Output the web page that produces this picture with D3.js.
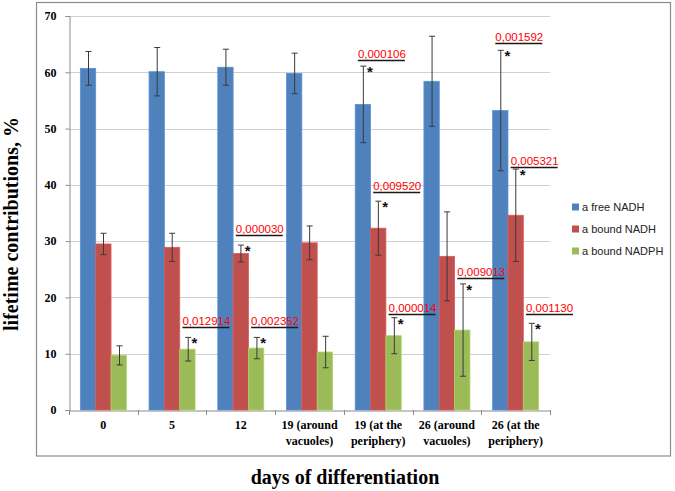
<!DOCTYPE html>
<html>
<head>
<meta charset="utf-8">
<script src="https://cdn.jsdelivr.net/npm/d3@7"></script>
<style>
  html, body { margin: 0; padding: 0; background: #fff; }
  svg { display: block; }
</style>
</head>
<body>
<svg id="chart" width="675" height="491"></svg>
<script>
// ---------- data ----------
const categories = ["0", "5", "12", "19 (around vacuoles)", "19 (at the periphery)", "26 (around vacuoles)", "26 (at the periphery)"];
const categoryLines = [["0"], ["5"], ["12"], ["19 (around", "vacuoles)"], ["19 (at the", "periphery)"], ["26 (around", "vacuoles)"], ["26 (at the", "periphery)"]];
const seriesNames = ["a free NADH", "a bound NADH", "a bound NADPH"];
const freeNADH      = [60.7, 60.1, 60.9, 59.8, 54.3, 58.4, 53.2];
const freeNADHErr   = [3.0, 4.3, 3.2, 3.6, 6.8, 8.0, 10.7];
const boundNADH     = [29.5, 28.9, 27.8, 29.7, 32.3, 27.3, 34.6];
const boundNADHErr  = [1.9, 2.5, 1.5, 3.0, 4.8, 7.9, 8.2];
const boundNADPH    = [9.7, 10.8, 11.0, 10.3, 13.2, 14.2, 12.1];
const boundNADPHErr = [1.7, 2.1, 1.9, 2.8, 3.2, 8.2, 3.3];
const yTicks = [0, 10, 20, 30, 40, 50, 60, 70];
// significance annotations: category index, series index, p-value, bracket level (data units)
const annCategory = [4, 4, 6, 6, 2, 1, 2, 4, 5, 6];
const annSeries   = [0, 1, 0, 1, 1, 2, 2, 2, 2, 2];
const annP        = ["0,000106", "0,009520", "0,001592", "0,005321", "0,000030", "0,012914", "0,002352", "0,000014", "0,009013", "0,001130"];
const annLevel    = [62.2, 38.7, 65.2, 43.2, 31.1, 14.7, 14.7, 17.1, 23.4, 17.1];

const values = [freeNADH, boundNADH, boundNADPH];
const errors = [freeNADHErr, boundNADHErr, boundNADPHErr];
const colors = ["#4f81bd", "#c0504d", "#9bbb59"];

// ---------- layout ----------
const svg = d3.select("#chart");
const plot = { left: 69, right: 550, top: 16, bottom: 410 };

const x0 = d3.scaleBand().domain(categories).range([plot.left, plot.right]).paddingInner(0).paddingOuter(0);
const x1 = d3.scaleBand().domain(d3.range(3)).range([0, x0.bandwidth()]).paddingInner(0).paddingOuter(0.74);
const y = d3.scaleLinear().domain([0, 70]).range([plot.bottom, plot.top]);

// outer frame
svg.append("rect").attr("x", 36.5).attr("y", 2.5).attr("width", 634).attr("height", 453.5)
  .attr("fill", "none").attr("stroke", "#8c8c8c").attr("stroke-width", 1.2);

// gridlines
svg.append("g").selectAll("line").data(yTicks.filter(d => d > 0)).join("line")
  .attr("x1", plot.left).attr("x2", plot.right)
  .attr("y1", d => Math.round(y(d)) + 0.5).attr("y2", d => Math.round(y(d)) + 0.5)
  .attr("stroke", "#d0d0d0").attr("stroke-width", 1);

// y axis
const yAxis = d3.axisLeft(y).tickValues(yTicks).tickSize(4).tickPadding(9);
const gy = svg.append("g").attr("transform", `translate(${plot.left + 0.5},0)`).call(yAxis);
gy.select(".domain").attr("stroke", "#8c8c8c");
gy.selectAll(".tick line").attr("stroke", "#8c8c8c");
gy.selectAll(".tick text").attr("font-family", "Liberation Serif, serif").attr("font-weight", "bold")
  .attr("font-size", 12).attr("fill", "#000");

// x axis (labels at centres, ticks at boundaries)
const xAxis = d3.axisBottom(x0).tickSize(0).tickFormat("");
const gx = svg.append("g").attr("transform", `translate(0,${plot.bottom + 0.5})`).call(xAxis);
gx.select(".domain").attr("stroke", "#8c8c8c");
svg.append("g").selectAll("line").data(d3.range(categories.length + 1)).join("line")
  .attr("x1", i => Math.round(plot.left + i * x0.step()) + 0.5)
  .attr("x2", i => Math.round(plot.left + i * x0.step()) + 0.5)
  .attr("y1", plot.bottom).attr("y2", plot.bottom + 5)
  .attr("stroke", "#8c8c8c");
const labels = svg.append("g").selectAll("text").data(categories).join("text")
  .attr("x", d => x0(d) + x0.bandwidth() / 2)
  .attr("y", 429)
  .attr("text-anchor", "middle")
  .attr("font-family", "Liberation Serif, serif").attr("font-weight", "bold")
  .attr("font-size", 12).attr("fill", "#000");
labels.each(function (d, i) {
  const t = d3.select(this);
  categoryLines[i].forEach((line, j) => {
    t.append("tspan").attr("x", x0(d) + x0.bandwidth() / 2).attr("dy", j === 0 ? 0 : 16).text(line);
  });
});

// bars
const groups = svg.append("g").selectAll("g").data(categories).join("g")
  .attr("transform", d => `translate(${x0(d)},0)`);
groups.each(function (cat, ci) {
  const g = d3.select(this);
  for (let s = 0; s < 3; s++) {
    const v = values[s][ci];
    g.append("rect")
      .attr("x", x1(s)).attr("width", x1.bandwidth())
      .attr("y", y(v)).attr("height", y(0) - y(v))
      .attr("fill", colors[s])
      .attr("stroke", d3.color(colors[s]).brighter(0.35)).attr("stroke-width", 0.8);
  }
});

// error bars
groups.each(function (cat, ci) {
  const g = d3.select(this);
  for (let s = 0; s < 3; s++) {
    const cx = Math.round(x1(s) + x1.bandwidth() / 2) + 0.5;
    const v = values[s][ci], e = errors[s][ci];
    const top = y(v + e), bot = y(v - e);
    g.append("line").attr("x1", cx).attr("x2", cx).attr("y1", top).attr("y2", bot)
      .attr("stroke", "#3a3a3a").attr("stroke-width", 1);
    [top, bot].forEach(yy => {
      g.append("line").attr("x1", cx - 3).attr("x2", cx + 3).attr("y1", yy).attr("y2", yy)
        .attr("stroke", "#3a3a3a").attr("stroke-width", 1);
    });
  }
});

// significance annotations
const ann = svg.append("g");
annP.forEach((p, k) => {
  const ci = annCategory[k], s = annSeries[k];
  const cx = x0(categories[ci]) + x1(s) + x1.bandwidth() / 2;
  const errTop = y(values[s][ci] + errors[s][ci]);
  const ly = Math.round(y(annLevel[k])) + 0.5;
  const lx = cx - 5;
  ann.append("line").attr("x1", lx).attr("x2", lx + 47).attr("y1", ly).attr("y2", ly)
    .attr("stroke", "#1a1a1a").attr("stroke-width", 1.6);
  ann.append("text").attr("x", lx).attr("y", ly - 3)
    .attr("font-family", "Liberation Sans, Arial, sans-serif").attr("font-size", 11.5)
    .attr("fill", "#ff0000").text(p);
  ann.append("text").attr("x", cx + 7).attr("y", errTop + 11)
    .attr("text-anchor", "middle")
    .attr("font-family", "Liberation Sans, Arial, sans-serif").attr("font-weight", "bold")
    .attr("font-size", 15).attr("fill", "#111").text("*");
});

// legend
const legend = svg.append("g").selectAll("g").data(seriesNames).join("g")
  .attr("transform", (d, i) => `translate(572,${207 + i * 22})`);
legend.append("rect").attr("x", 0).attr("y", -3.5).attr("width", 7).attr("height", 7)
  .attr("fill", (d, i) => colors[i]);
legend.append("text").attr("x", 10).attr("y", 4)
  .attr("font-family", "Liberation Sans, Arial, sans-serif").attr("font-size", 11)
  .attr("fill", "#222").text(d => d);

// axis titles
svg.append("text").attr("transform", "translate(18,224) rotate(-90)")
  .attr("text-anchor", "middle")
  .attr("font-family", "Liberation Serif, serif").attr("font-weight", "bold")
  .attr("font-size", 20).attr("fill", "#000").text("lifetime contributions, %");
svg.append("text").attr("x", 345).attr("y", 484)
  .attr("text-anchor", "middle")
  .attr("font-family", "Liberation Serif, serif").attr("font-weight", "bold")
  .attr("font-size", 20).attr("fill", "#000").text("days of differentiation");
</script>
</body>
</html>
